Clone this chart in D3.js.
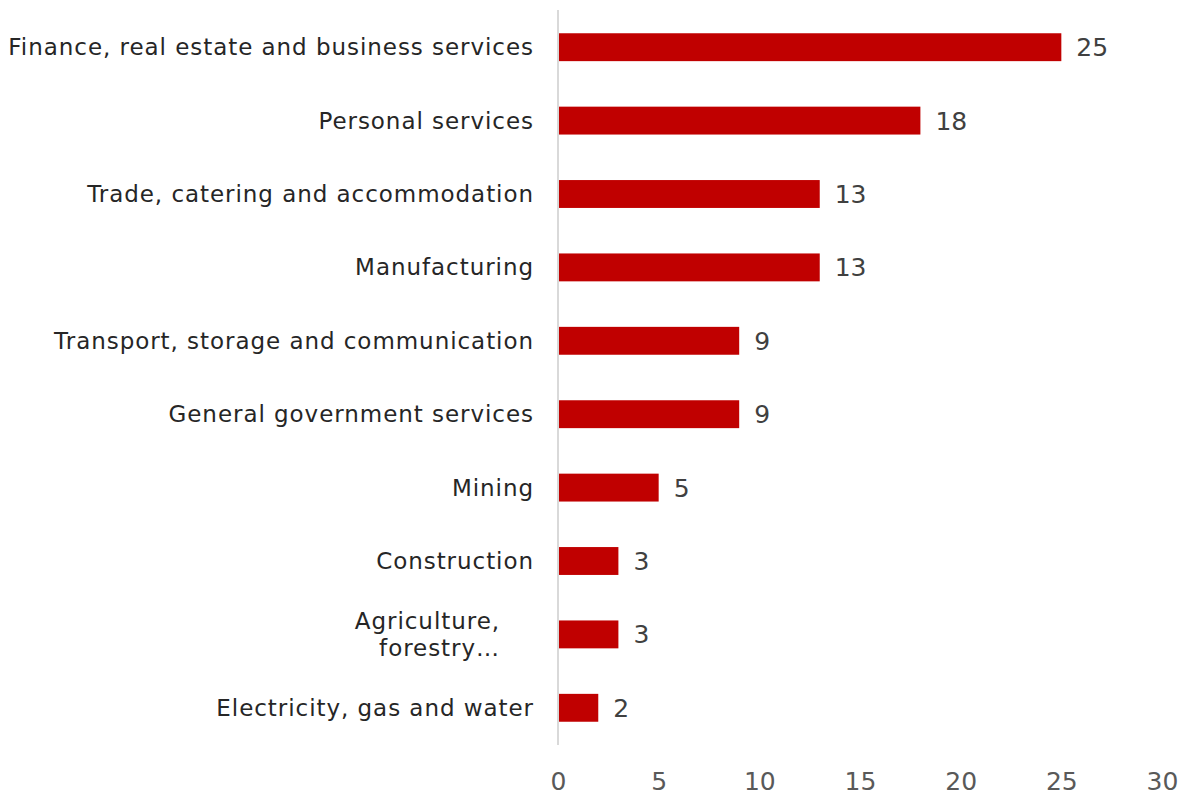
<!DOCTYPE html>
<html>
<head>
<meta charset="utf-8">
<script src="https://cdn.jsdelivr.net/npm/d3@7/dist/d3.min.js"></script>
<style>
  html, body { margin: 0; padding: 0; background: #fff; }
  svg { display: block; }
  text { font-family: "DejaVu Sans", Verdana, sans-serif; }
</style>
</head>
<body>
<svg id="chart" width="1187" height="796"></svg>
<script>
// Share of value added by industry
const categories = [
  "Finance, real estate and business services",
  "Personal services",
  "Trade, catering and accommodation",
  "Manufacturing",
  "Transport, storage and communication",
  "General government services",
  "Mining",
  "Construction",
  "Agriculture, forestry…",
  "Electricity, gas and water"
];
const values = [25, 18, 13, 13, 9, 9, 5, 3, 3, 2];
const tickValues = [0, 5, 10, 15, 20, 25, 30];

// Category labels that wrap onto two lines
const labelLines = {
  "Agriculture, forestry…": ["Agriculture,", "forestry…"]
};

const svg = d3.select("#chart");

const x = d3.scaleLinear().domain([0, 30]).range([558, 1162]);
const y = d3.scaleBand().domain(categories).range([10.5, 744.5]).paddingInner(0.62).paddingOuter(0.31);

// Bars
svg.append("g")
  .selectAll("rect")
  .data(categories)
  .join("rect")
  .attr("x", x(0) + 1)
  .attr("y", d => y(d))
  .attr("width", (d, i) => x(values[i]) - x(0) - 1)
  .attr("height", y.bandwidth())
  .attr("fill", "#C00000");

// Vertical category axis line
svg.append("line")
  .attr("x1", x(0)).attr("x2", x(0))
  .attr("y1", 10).attr("y2", 745)
  .attr("stroke", "#d9d9d9")
  .attr("stroke-width", 2);

// Category labels
const labels = svg.append("g")
  .selectAll("text")
  .data(categories)
  .join("text")
  .attr("text-anchor", "end")
  .attr("font-size", 23)
  .attr("letter-spacing", 0.95)
  .attr("fill", "#262626");

labels.each(function(d) {
  const t = d3.select(this);
  const cy = y(d) + y.bandwidth() / 2;
  const lines = labelLines[d];
  if (lines) {
    lines.forEach((ln, k) => {
      t.append("tspan")
        .attr("x", 500)
        .attr("y", cy + 8 + (k - (lines.length - 1) / 2) * 27)
        .text(ln);
    });
  } else {
    t.attr("x", 534).attr("y", cy + 8).text(d);
  }
});

// Value labels
svg.append("g")
  .selectAll("text")
  .data(categories)
  .join("text")
  .attr("x", (d, i) => x(values[i]) + 15)
  .attr("y", d => y(d) + y.bandwidth() / 2 + 9)
  .attr("font-size", 25)
  .attr("fill", "#404040")
  .text((d, i) => values[i]);

// Value axis (no line, no ticks)
const xAxis = d3.axisBottom(x).tickValues(tickValues).tickSize(0).tickPadding(0);
const gx = svg.append("g").attr("transform", "translate(0,769)").call(xAxis);
gx.select(".domain").remove();
gx.selectAll("text")
  .attr("font-size", 25)
  .attr("font-family", "\"DejaVu Sans\", Verdana, sans-serif")
  .attr("fill", "#595959")
  .attr("dy", "0.85em");
</script>
</body>
</html>
